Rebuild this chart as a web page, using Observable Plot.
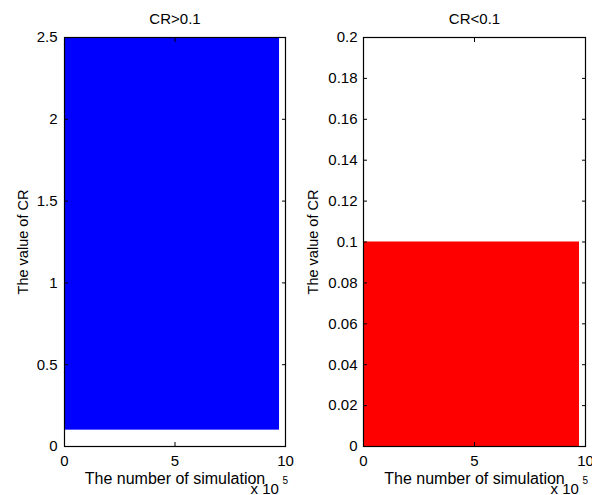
<!DOCTYPE html>
<html>
<head>
<meta charset="utf-8">
<script src="https://cdn.jsdelivr.net/npm/d3@7"></script>
<script src="https://cdn.jsdelivr.net/npm/@observablehq/plot@0.6"></script>
<style>
  html, body { margin: 0; padding: 0; background: #fff; }
  #wrap { position: relative; width: 592px; height: 495px; overflow: hidden; }
  #wrap > div, #wrap > svg { position: absolute; top: 0; overflow: visible; }
</style>
</head>
<body>
<div id="wrap"></div>
<script>
// ---- data ----
const panelTitles = ["CR>0.1", "CR<0.1"];
const xLabel = "The number of simulation";
const yLabel = "The value of CR";
const simulationsTotal = 973000;          // last simulation index (~9.73 x 10^5)
const crThreshold = 0.1;
const crAboveMax = 2.5;                  // band of CR values above threshold (clipped at axis top)
const crBelowMin = 0;
const xTicks = [0, 500000, 1000000];
const yTicksLeft = [0, 0.5, 1, 1.5, 2, 2.5];
const yTicksRight = [0, 0.02, 0.04, 0.06, 0.08, 0.1, 0.12, 0.14, 0.16, 0.18, 0.2];
const xDomain = [0, 1000000];
const yDomainLeft = [0, 2.5];
const yDomainRight = [0, 0.2];

const bandAbove = [{x1: 0, x2: simulationsTotal, y1: crThreshold, y2: crAboveMax}];
const bandBelow = [{x1: 0, x2: simulationsTotal, y1: crBelowMin, y2: crThreshold}];

const FONT = "'Liberation Sans', Arial, Helvetica, sans-serif";

function panel({title, band, color, yDomain, yTicks, marginLeft, marginRight, yLabelDx, yTickPadding, yFormat}) {
  return Plot.plot({
    width: 296,
    height: 495,
    marginLeft, marginRight,
    marginTop: 37,
    marginBottom: 49,
    style: {fontFamily: FONT, fontSize: "15px", color: "#000", background: "transparent", overflow: "visible"},
    x: {domain: xDomain, ticks: xTicks, label: null},
    y: {domain: yDomain, ticks: yTicks, label: null},
    marks: [
      Plot.rect(band, {x1: "x1", x2: "x2", y1: "y1", y2: "y2", fill: color, clip: true}),
      Plot.axisX({anchor: "bottom", ticks: xTicks, tickSize: -4, tickPadding: 13, tickFormat: d => d / 100000, label: null, fontSize: 15}),
      Plot.axisX({anchor: "top", ticks: xTicks, tickSize: -4, tickFormat: () => "", label: null}),
      Plot.axisY({anchor: "left", ticks: yTicks, tickSize: -4, tickPadding: yTickPadding, tickFormat: yFormat, label: null, fontSize: 15}),
      Plot.axisY({anchor: "right", ticks: yTicks, tickSize: -4, tickFormat: () => "", label: null}),
      Plot.frame({stroke: "#000", strokeWidth: 1.2}),
      Plot.text([title], {text: d => d, frameAnchor: "top", dy: -24, fontSize: 15, fill: "#000"}),
      Plot.text([yLabel], {text: d => d, frameAnchor: "left", textAnchor: "middle", rotate: -90, dx: yLabelDx, fontSize: 14.5, fill: "#000"}),
      Plot.text([xLabel], {text: d => d, frameAnchor: "bottom", textAnchor: "middle", dy: 37, fontSize: 16, fill: "#000"}),
      Plot.text(["x 10"], {text: d => d, frameAnchor: "bottom-right", textAnchor: "start", dx: -35, dy: 47, fontSize: 15, fill: "#000"}),
      Plot.text(["5"], {text: d => d, frameAnchor: "bottom-right", textAnchor: "start", dx: -3, dy: 37, fontSize: 10, fill: "#000"})
    ]
  });
}

const wrap = document.getElementById("wrap");
const left = panel({
  title: panelTitles[0], band: bandAbove, color: "#0000ff",
  yDomain: yDomainLeft, yTicks: yTicksLeft,
  marginLeft: 64, marginRight: 11, yLabelDx: -41, yTickPadding: 11,
  yFormat: d => String(d)
});
left.style.left = "0px";
const right = panel({
  title: panelTitles[1], band: bandBelow, color: "#ff0000",
  yDomain: yDomainRight, yTicks: yTicksRight,
  marginLeft: 67, marginRight: 7, yLabelDx: -50, yTickPadding: 10,
  yFormat: d => String(+d.toFixed(2))
});
right.style.left = "296px";
wrap.appendChild(left);
wrap.appendChild(right);
</script>
</body>
</html>
